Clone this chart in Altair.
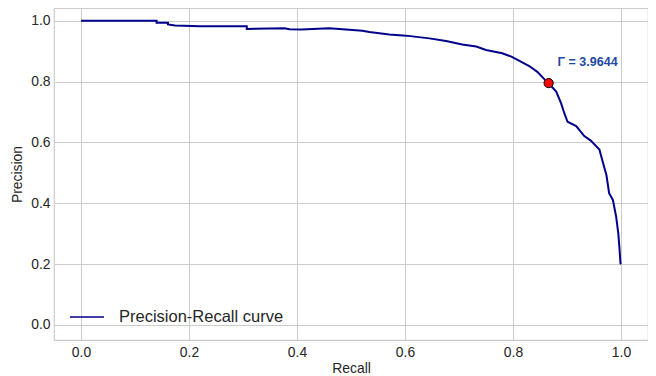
import altair as alt
import pandas as pd

# Precision-Recall curve values
recall = [0.000, 0.140, 0.140, 0.161, 0.161, 0.174, 0.220, 0.245, 0.291, 0.307, 0.307,
          0.377, 0.386, 0.408, 0.460, 0.521, 0.534, 0.571, 0.602, 0.645, 0.676, 0.706,
          0.732, 0.750, 0.780, 0.797, 0.812, 0.830, 0.845, 0.858, 0.865, 0.880, 0.889,
          0.895, 0.901, 0.917, 0.932, 0.944, 0.960, 0.966, 0.973, 0.978, 0.985, 0.991,
          0.995, 0.997, 0.999, 1.000]
precision = [1.000, 1.000, 0.993, 0.993, 0.988, 0.984, 0.982, 0.982, 0.982, 0.982, 0.973,
             0.975, 0.972, 0.971, 0.975, 0.967, 0.963, 0.955, 0.951, 0.942, 0.933, 0.922,
             0.915, 0.904, 0.893, 0.882, 0.868, 0.851, 0.832, 0.808, 0.796, 0.767, 0.729,
             0.696, 0.668, 0.654, 0.621, 0.606, 0.577, 0.537, 0.493, 0.433, 0.411, 0.356,
             0.301, 0.257, 0.203, 0.200]
series_name = ["Precision-Recall curve"]

best_recall = [0.866]
best_precision = [0.795]
label_text = ["\u0393 = 3.9644"]
label_x = [0.8826]
label_y = [0.863]

x_ticks = [0.0, 0.2, 0.4, 0.6, 0.8, 1.0]
y_ticks = [0.0, 0.2, 0.4, 0.6, 0.8, 1.0]

curve_df = pd.DataFrame({
    "Recall": recall,
    "Precision": precision,
    "order": list(range(len(recall))),
    "series": series_name * len(recall),
})
point_df = pd.DataFrame({"Recall": best_recall, "Precision": best_precision})
text_df = pd.DataFrame({"x": label_x, "y": label_y, "label": label_text})

FONT = "Liberation Sans"
x_scale = alt.Scale(domain=[-0.05, 1.05], nice=False, zero=False)
y_scale = alt.Scale(domain=[-0.0493, 1.0418], nice=False, zero=False)

x_axis = alt.Axis(values=x_ticks, format=".1f", title="Recall", tickSize=0,
                  labelPadding=5, titlePadding=3, domain=False)
y_axis = alt.Axis(values=y_ticks, format=".1f", title="Precision", tickSize=0,
                  labelPadding=4, titlePadding=6, domain=False)

curve = alt.Chart(curve_df).mark_line(strokeWidth=2).encode(
    x=alt.X("Recall:Q", scale=x_scale, axis=x_axis),
    y=alt.Y("Precision:Q", scale=y_scale, axis=y_axis),
    order="order:Q",
    color=alt.Color("series:N",
                    scale=alt.Scale(domain=series_name, range=["#00008b"]),
                    legend=alt.Legend(title=None, orient="none", legendX=15, legendY=291,
                                      symbolType="stroke", symbolSize=1156,
                                      symbolStrokeWidth=1.5, labelOffset=14,
                                      labelFontSize=16.5, labelFont=FONT,
                                      labelLimit=400,
                                      labelColor="#262626", padding=0)),
)

point = alt.Chart(point_df).mark_point(filled=True, size=85, color="#ff0000",
                                       stroke="#000000", strokeWidth=1, opacity=1).encode(
    x=alt.X("Recall:Q", scale=x_scale),
    y=alt.Y("Precision:Q", scale=y_scale),
)

text = alt.Chart(text_df).mark_text(align="left", baseline="middle", fontSize=12.5,
                                    fontWeight="bold", font=FONT, color="#1f4aa6").encode(
    x=alt.X("x:Q", scale=x_scale),
    y=alt.Y("y:Q", scale=y_scale),
    text="label:N",
)

chart = alt.layer(curve, point, text).properties(
    width=594, height=332,
    autosize=alt.AutoSizeParams(type="none"),
    padding={"left": 46, "top": 0, "right": 0, "bottom": 36},
).configure_view(
    stroke="#cccccc", strokeWidth=1.2
).configure_axis(
    gridColor="#cccccc", gridWidth=1,
    labelFont=FONT, labelFontSize=13.9, labelColor="#262626",
    titleFont=FONT, titleFontSize=13.9, titleColor="#262626", titleFontWeight="normal",
)

chart.save("out.html", embed_options={"renderer": "svg", "actions": False})
